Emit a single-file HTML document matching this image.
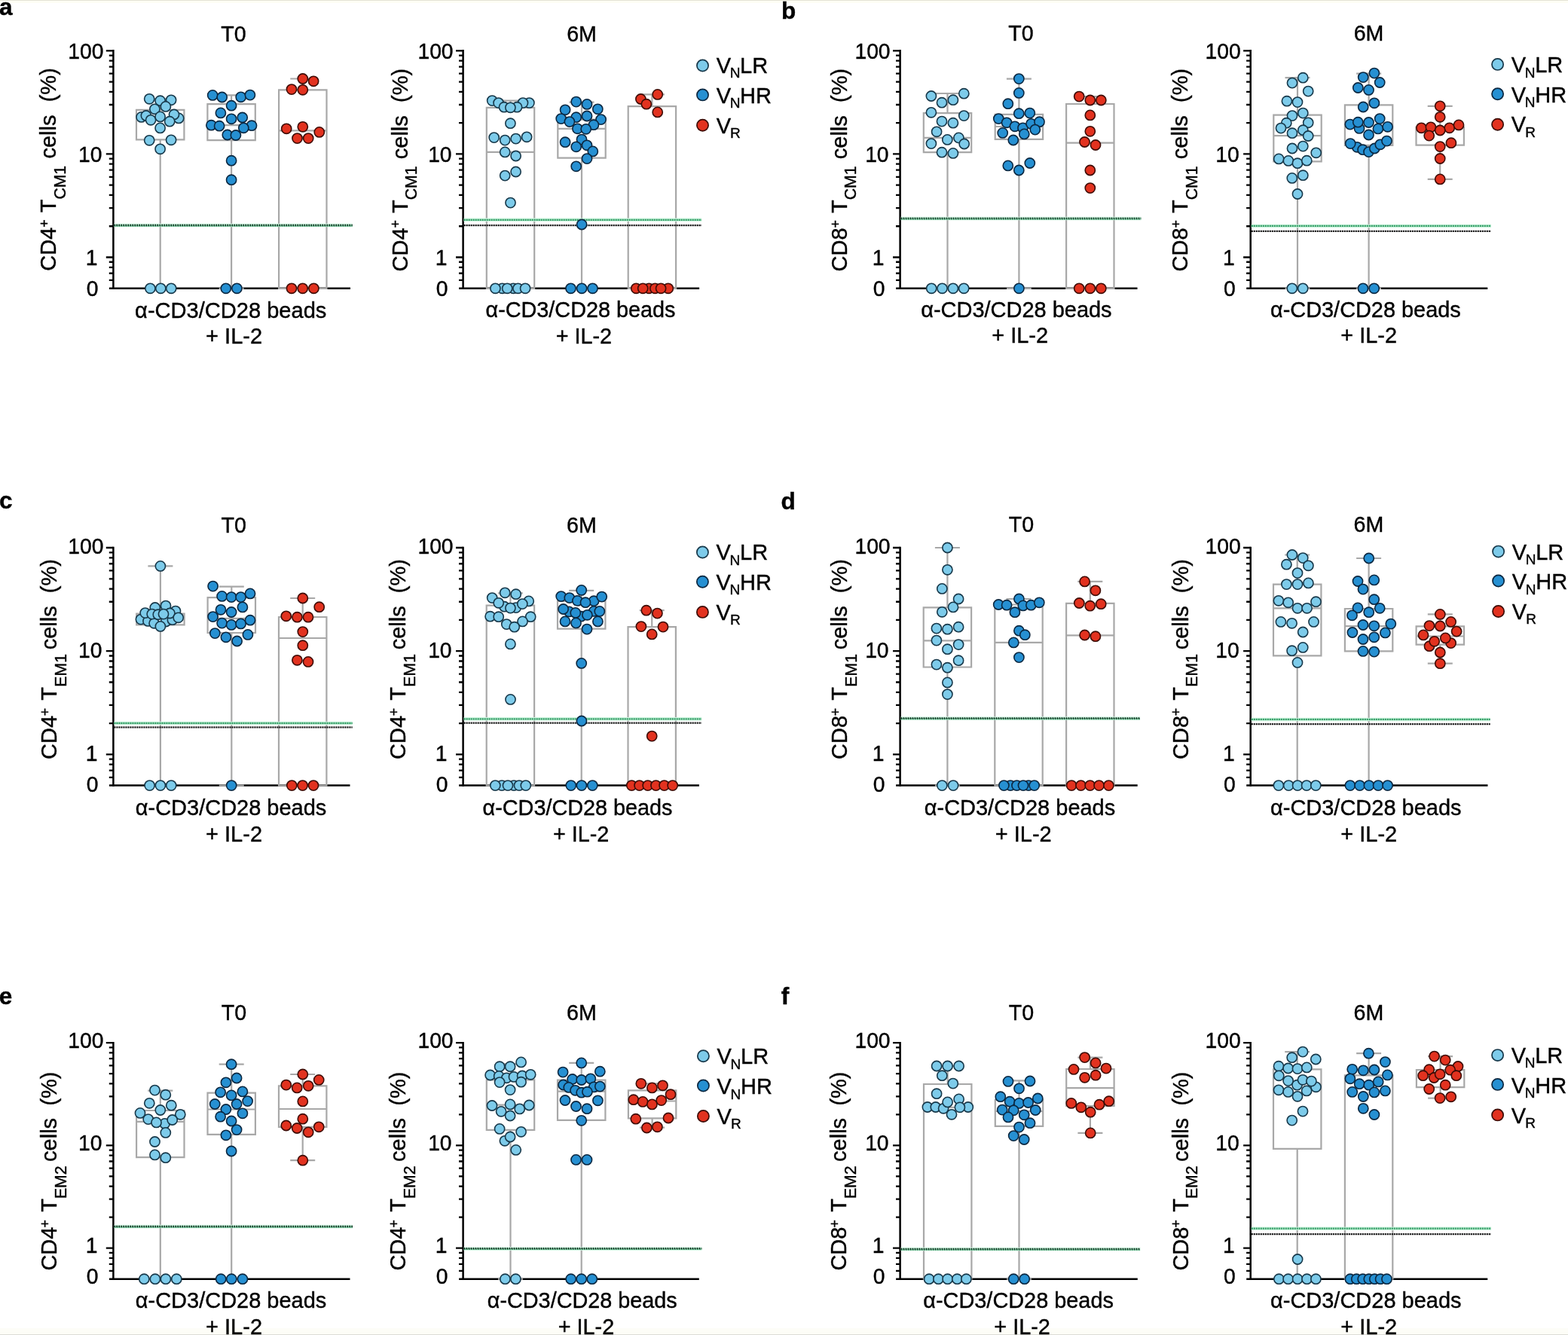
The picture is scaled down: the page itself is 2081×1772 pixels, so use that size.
<!DOCTYPE html>
<html><head><meta charset="utf-8"><title>Figure</title>
<style>html,body{margin:0;padding:0;background:#fff;}svg{display:block;}</style>
</head><body>
<svg xmlns="http://www.w3.org/2000/svg" width="2081" height="1772" viewBox="0 0 2081 1772" font-family="'Liberation Sans', Arial, Helvetica, sans-serif" fill="#000">
<style>text{stroke:#000;stroke-width:0.4px;}</style>
<rect width="2081" height="1772" fill="#fff"/>
<rect x="0" y="0" width="2081" height="1" fill="#e4e3d6"/>
<rect x="0" y="1" width="2081" height="3" fill="#fdfdf4"/>
<rect x="0" y="1763" width="2081" height="8" fill="#fdfdf7"/>
<rect x="0" y="1771" width="2081" height="1" fill="#dcdcd6"/>
<line x1="150.4" y1="66.1" x2="150.4" y2="384" stroke="#000" stroke-width="2.5"/>
<line x1="144.9" y1="382.8" x2="465" y2="382.8" stroke="#000" stroke-width="2.5"/>
<path d="M140.8 67.3H150.4 M140.8 204.4H150.4 M140.8 341.5H150.4 M144.8 163.13H150.4 M144.8 138.99H150.4 M144.8 121.86H150.4 M144.8 108.57H150.4 M144.8 97.72H150.4 M144.8 88.54H150.4 M144.8 80.59H150.4 M144.8 73.57H150.4 M144.8 300.23H150.4 M144.8 276.09H150.4 M144.8 258.96H150.4 M144.8 245.67H150.4 M144.8 234.82H150.4 M144.8 225.64H150.4 M144.8 217.69H150.4 M144.8 210.67H150.4 M144.8 371.92H150.4 M144.8 362.74H150.4 M144.8 354.79H150.4 M144.8 347.77H150.4" stroke="#000" stroke-width="2.3" fill="none"/>
<path d="M212.7 131.3V145.8 M196.2 131.3H229.2 M212.7 185.3V382.8 M196.2 382.8H229.2 M181 145.8H244.4V185.3H181Z M307.1 126.4V138.2 M290.6 126.4H323.6 M307.1 186.1V382.8 M290.6 382.8H323.6 M275.4 138.2H338.8V186.1H275.4Z M275.4 166.2H338.8 M401.8 104.5V119.3 M385.3 104.5H418.3 M370.1 119.3H433.5V382.8H370.1Z M370.1 173.4H433.5" stroke="#a8a8a8" stroke-width="2.2" fill="none"/>
<line x1="151.4" y1="299.1" x2="467.7" y2="299.1" stroke="#c9f3dc" stroke-width="4.5"/>
<line x1="151.4" y1="299.7" x2="467.7" y2="299.7" stroke="#2e8558" stroke-width="2.2" stroke-dasharray="2.1 0.9"/>
<line x1="151.4" y1="298.6" x2="467.7" y2="298.6" stroke="#0b2015" stroke-width="1.6" stroke-dasharray="1.6 1.4"/>
<g fill="#7dcbea" stroke="#17384a" stroke-width="1.6"><circle cx="212.6" cy="133.7" r="6.6"/><circle cx="198.2" cy="131.3" r="6.6"/><circle cx="227.1" cy="132.8" r="6.6"/><circle cx="205.4" cy="144.8" r="6.6"/><circle cx="219.9" cy="141.4" r="6.6"/><circle cx="187.6" cy="155.4" r="6.6"/><circle cx="193.9" cy="153.5" r="6.6"/><circle cx="200.1" cy="159.3" r="6.6"/><circle cx="212.6" cy="154.9" r="6.6"/><circle cx="237.2" cy="156.9" r="6.6"/><circle cx="231" cy="152" r="6.6"/><circle cx="225.2" cy="161.2" r="6.6"/><circle cx="212.6" cy="169.9" r="6.6"/><circle cx="198.2" cy="186.3" r="6.6"/><circle cx="227.1" cy="185.8" r="6.6"/><circle cx="212.6" cy="197.8" r="6.6"/><circle cx="199.4" cy="382.8" r="6.6"/><circle cx="213.3" cy="382.8" r="6.6"/><circle cx="227.2" cy="382.8" r="6.6"/></g>
<g fill="#2690d2" stroke="#0b2740" stroke-width="1.6"><circle cx="282.2" cy="126.4" r="6.6"/><circle cx="294.7" cy="129" r="6.6"/><circle cx="319.7" cy="128.8" r="6.6"/><circle cx="331.9" cy="126.1" r="6.6"/><circle cx="307.1" cy="140.2" r="6.6"/><circle cx="292.9" cy="149.9" r="6.6"/><circle cx="307.1" cy="157.8" r="6.6"/><circle cx="321.7" cy="156" r="6.6"/><circle cx="280.4" cy="166.2" r="6.6"/><circle cx="291.1" cy="167.2" r="6.6"/><circle cx="334" cy="166.7" r="6.6"/><circle cx="323.3" cy="169.8" r="6.6"/><circle cx="301.8" cy="179" r="6.6"/><circle cx="312.9" cy="179.5" r="6.6"/><circle cx="307.1" cy="213.2" r="6.6"/><circle cx="307.1" cy="238.7" r="6.6"/><circle cx="299.8" cy="382.8" r="6.6"/><circle cx="314.4" cy="382.8" r="6.6"/></g>
<g fill="#e2321f" stroke="#3d0c06" stroke-width="1.6"><circle cx="401.8" cy="104.5" r="6.6"/><circle cx="416.1" cy="107.8" r="6.6"/><circle cx="387" cy="118.6" r="6.6"/><circle cx="401.8" cy="119.3" r="6.6"/><circle cx="380.2" cy="170.8" r="6.6"/><circle cx="401.8" cy="168.3" r="6.6"/><circle cx="423.8" cy="175.4" r="6.6"/><circle cx="394.5" cy="183.6" r="6.6"/><circle cx="409.2" cy="183.6" r="6.6"/><circle cx="387" cy="382.8" r="6.6"/><circle cx="401.7" cy="382.8" r="6.6"/><circle cx="416.4" cy="382.8" r="6.6"/></g>
<line x1="614.6" y1="66.1" x2="614.6" y2="384" stroke="#000" stroke-width="2.5"/>
<line x1="609.1" y1="382.8" x2="928.1" y2="382.8" stroke="#000" stroke-width="2.5"/>
<path d="M605 67.3H614.6 M605 204.4H614.6 M605 341.5H614.6 M609 163.13H614.6 M609 138.99H614.6 M609 121.86H614.6 M609 108.57H614.6 M609 97.72H614.6 M609 88.54H614.6 M609 80.59H614.6 M609 73.57H614.6 M609 300.23H614.6 M609 276.09H614.6 M609 258.96H614.6 M609 245.67H614.6 M609 234.82H614.6 M609 225.64H614.6 M609 217.69H614.6 M609 210.67H614.6 M609 371.92H614.6 M609 362.74H614.6 M609 354.79H614.6 M609 347.77H614.6" stroke="#000" stroke-width="2.3" fill="none"/>
<path d="M677.5 133.6V142.8 M661 133.6H694 M645.8 142.8H709.2V382.8H645.8Z M645.8 201.9H709.2 M772 135.6V158.6 M755.5 135.6H788.5 M772 209.6V382.8 M755.5 382.8H788.5 M740.3 158.6H803.7V209.6H740.3Z M740.3 170.8H803.7 M865.4 125.4V141.2 M848.9 125.4H881.9 M833.7 141.2H897.1V382.8H833.7Z" stroke="#a8a8a8" stroke-width="2.2" fill="none"/>
<line x1="615.6" y1="291.8" x2="931.1" y2="291.8" stroke="#c9f3dc" stroke-width="4.5"/>
<line x1="615.6" y1="299.1" x2="931.1" y2="299.1" stroke="#111" stroke-width="2.2" stroke-dasharray="2.1 0.9"/>
<line x1="615.6" y1="291.8" x2="931.1" y2="291.8" stroke="#2f9a62" stroke-width="2.2" stroke-dasharray="2.1 0.9"/>
<g fill="#7dcbea" stroke="#17384a" stroke-width="1.6"><circle cx="653.2" cy="133.6" r="6.6"/><circle cx="702.4" cy="136.6" r="6.6"/><circle cx="694" cy="136.6" r="6.6"/><circle cx="661.6" cy="136.6" r="6.6"/><circle cx="669" cy="142.2" r="6.6"/><circle cx="686.1" cy="142.2" r="6.6"/><circle cx="677.4" cy="142.8" r="6.6"/><circle cx="677.4" cy="163.7" r="6.6"/><circle cx="655.7" cy="182.6" r="6.6"/><circle cx="670.2" cy="186.1" r="6.6"/><circle cx="684.6" cy="184.1" r="6.6"/><circle cx="699.1" cy="181.8" r="6.6"/><circle cx="670.2" cy="201.9" r="6.6"/><circle cx="684.6" cy="207" r="6.6"/><circle cx="684.6" cy="228" r="6.6"/><circle cx="670.2" cy="233.1" r="6.6"/><circle cx="677.5" cy="269.1" r="6.6"/><circle cx="666.6" cy="382.8" r="6.6"/><circle cx="681.3" cy="382.8" r="6.6"/><circle cx="687.5" cy="382.8" r="6.6"/><circle cx="657.4" cy="382.8" r="6.6"/><circle cx="673.2" cy="382.8" r="6.6"/><circle cx="697.1" cy="382.8" r="6.6"/></g>
<g fill="#2690d2" stroke="#0b2740" stroke-width="1.6"><circle cx="764.7" cy="135.1" r="6.6"/><circle cx="779" cy="138.4" r="6.6"/><circle cx="750.1" cy="145.8" r="6.6"/><circle cx="793.3" cy="144.8" r="6.6"/><circle cx="744.7" cy="157.6" r="6.6"/><circle cx="764.7" cy="155.7" r="6.6"/><circle cx="779" cy="154" r="6.6"/><circle cx="797.6" cy="158.6" r="6.6"/><circle cx="755.9" cy="161.6" r="6.6"/><circle cx="787.9" cy="165.7" r="6.6"/><circle cx="766.4" cy="170.8" r="6.6"/><circle cx="777.7" cy="171.3" r="6.6"/><circle cx="750.1" cy="188.7" r="6.6"/><circle cx="772" cy="185.1" r="6.6"/><circle cx="764.7" cy="194.8" r="6.6"/><circle cx="779" cy="192.8" r="6.6"/><circle cx="786.8" cy="200.9" r="6.6"/><circle cx="779" cy="210.6" r="6.6"/><circle cx="764.7" cy="220.8" r="6.6"/><circle cx="772.1" cy="298" r="6.6"/><circle cx="757.5" cy="382.8" r="6.6"/><circle cx="772.1" cy="382.8" r="6.6"/><circle cx="786.5" cy="382.8" r="6.6"/></g>
<g fill="#e2321f" stroke="#3d0c06" stroke-width="1.6"><circle cx="872.7" cy="125.4" r="6.6"/><circle cx="850.4" cy="131.5" r="6.6"/><circle cx="857.9" cy="138.2" r="6.6"/><circle cx="872.7" cy="148.9" r="6.6"/><circle cx="844.3" cy="382.8" r="6.6"/><circle cx="861.3" cy="382.8" r="6.6"/><circle cx="869.4" cy="382.8" r="6.6"/><circle cx="886.8" cy="382.8" r="6.6"/><circle cx="853.2" cy="382.8" r="6.6"/><circle cx="877.1" cy="382.8" r="6.6"/></g>
<line x1="1194.6" y1="66.1" x2="1194.6" y2="384" stroke="#000" stroke-width="2.5"/>
<line x1="1189.1" y1="382.8" x2="1509.5" y2="382.8" stroke="#000" stroke-width="2.5"/>
<path d="M1185 67.3H1194.6 M1185 204.4H1194.6 M1185 341.5H1194.6 M1189 163.13H1194.6 M1189 138.99H1194.6 M1189 121.86H1194.6 M1189 108.57H1194.6 M1189 97.72H1194.6 M1189 88.54H1194.6 M1189 80.59H1194.6 M1189 73.57H1194.6 M1189 300.23H1194.6 M1189 276.09H1194.6 M1189 258.96H1194.6 M1189 245.67H1194.6 M1189 234.82H1194.6 M1189 225.64H1194.6 M1189 217.69H1194.6 M1189 210.67H1194.6 M1189 371.92H1194.6 M1189 362.74H1194.6 M1189 354.79H1194.6 M1189 347.77H1194.6" stroke="#000" stroke-width="2.3" fill="none"/>
<path d="M1257.5 124V150.1 M1241 124H1274 M1257.5 202.2V382.8 M1241 382.8H1274 M1225.8 150.1H1289.2V202.2H1225.8Z M1225.8 182.9H1289.2 M1352.4 104.6V151.8 M1335.9 104.6H1368.9 M1352.4 184.8V382.8 M1335.9 382.8H1368.9 M1320.7 151.8H1384.1V184.8H1320.7Z M1320.7 168H1384.1 M1446.8 128.1V138 M1430.3 128.1H1463.3 M1415.1 138H1478.5V382.8H1415.1Z M1415.1 189.7H1478.5" stroke="#a8a8a8" stroke-width="2.2" fill="none"/>
<line x1="1195.6" y1="290" x2="1514.3" y2="290" stroke="#c9f3dc" stroke-width="4.5"/>
<line x1="1195.6" y1="290.6" x2="1514.3" y2="290.6" stroke="#2e8558" stroke-width="2.2" stroke-dasharray="2.1 0.9"/>
<line x1="1195.6" y1="289.5" x2="1514.3" y2="289.5" stroke="#0b2015" stroke-width="1.6" stroke-dasharray="1.6 1.4"/>
<g fill="#7dcbea" stroke="#17384a" stroke-width="1.6"><circle cx="1235.9" cy="127.5" r="6.6"/><circle cx="1250" cy="136.2" r="6.6"/><circle cx="1264.9" cy="132.7" r="6.6"/><circle cx="1279.3" cy="124.2" r="6.6"/><circle cx="1235.9" cy="149.3" r="6.6"/><circle cx="1279.3" cy="153.6" r="6.6"/><circle cx="1250" cy="161.1" r="6.6"/><circle cx="1264.9" cy="163.2" r="6.6"/><circle cx="1243.1" cy="174.8" r="6.6"/><circle cx="1257.3" cy="185.4" r="6.6"/><circle cx="1272.4" cy="182.9" r="6.6"/><circle cx="1235.9" cy="190.6" r="6.6"/><circle cx="1279.7" cy="191" r="6.6"/><circle cx="1250" cy="202.2" r="6.6"/><circle cx="1264.9" cy="203.4" r="6.6"/><circle cx="1236.2" cy="382.8" r="6.6"/><circle cx="1250.5" cy="382.8" r="6.6"/><circle cx="1264.9" cy="382.8" r="6.6"/><circle cx="1279.2" cy="382.8" r="6.6"/></g>
<g fill="#2690d2" stroke="#0b2740" stroke-width="1.6"><circle cx="1352.3" cy="104.6" r="6.6"/><circle cx="1352.3" cy="123.4" r="6.6"/><circle cx="1337.8" cy="137.7" r="6.6"/><circle cx="1352.3" cy="150.7" r="6.6"/><circle cx="1366.8" cy="150.1" r="6.6"/><circle cx="1325.3" cy="157.6" r="6.6"/><circle cx="1336.1" cy="162.8" r="6.6"/><circle cx="1346.9" cy="167.8" r="6.6"/><circle cx="1357.5" cy="169.8" r="6.6"/><circle cx="1368.5" cy="164.3" r="6.6"/><circle cx="1379.5" cy="161.7" r="6.6"/><circle cx="1373.8" cy="172.1" r="6.6"/><circle cx="1330.7" cy="176.4" r="6.6"/><circle cx="1359.3" cy="177.9" r="6.6"/><circle cx="1344.8" cy="186" r="6.6"/><circle cx="1337.8" cy="219.9" r="6.6"/><circle cx="1352.3" cy="226" r="6.6"/><circle cx="1366.8" cy="216.5" r="6.6"/><circle cx="1352.4" cy="382.8" r="6.6"/></g>
<g fill="#e2321f" stroke="#3d0c06" stroke-width="1.6"><circle cx="1432.2" cy="128.1" r="6.6"/><circle cx="1446.8" cy="133" r="6.6"/><circle cx="1461.3" cy="133" r="6.6"/><circle cx="1446.8" cy="152.9" r="6.6"/><circle cx="1446.8" cy="174.3" r="6.6"/><circle cx="1439.5" cy="188.5" r="6.6"/><circle cx="1454" cy="192.5" r="6.6"/><circle cx="1446.8" cy="226" r="6.6"/><circle cx="1446.8" cy="249.6" r="6.6"/><circle cx="1432.2" cy="382.8" r="6.6"/><circle cx="1446.8" cy="382.8" r="6.6"/><circle cx="1461.3" cy="382.8" r="6.6"/></g>
<line x1="1659.7" y1="66.1" x2="1659.7" y2="384" stroke="#000" stroke-width="2.5"/>
<line x1="1654.2" y1="382.8" x2="1974.3" y2="382.8" stroke="#000" stroke-width="2.5"/>
<path d="M1650.1 67.3H1659.7 M1650.1 204.4H1659.7 M1650.1 341.5H1659.7 M1654.1 163.13H1659.7 M1654.1 138.99H1659.7 M1654.1 121.86H1659.7 M1654.1 108.57H1659.7 M1654.1 97.72H1659.7 M1654.1 88.54H1659.7 M1654.1 80.59H1659.7 M1654.1 73.57H1659.7 M1654.1 300.23H1659.7 M1654.1 276.09H1659.7 M1654.1 258.96H1659.7 M1654.1 245.67H1659.7 M1654.1 234.82H1659.7 M1654.1 225.64H1659.7 M1654.1 217.69H1659.7 M1654.1 210.67H1659.7 M1654.1 371.92H1659.7 M1654.1 362.74H1659.7 M1654.1 354.79H1659.7 M1654.1 347.77H1659.7" stroke="#000" stroke-width="2.3" fill="none"/>
<path d="M1722 103.2V152.7 M1705.5 103.2H1738.5 M1722 214.4V382.8 M1705.5 382.8H1738.5 M1690.3 152.7H1753.7V214.4H1690.3Z M1690.3 180.2H1753.7 M1816.6 97.6V139.3 M1800.1 97.6H1833.1 M1816.6 192.9V382.8 M1800.1 382.8H1833.1 M1784.9 139.3H1848.3V192.9H1784.9Z M1911.2 140.8V168.8 M1894.7 140.8H1927.7 M1911.2 192.6V237.9 M1894.7 237.9H1927.7 M1879.5 168.8H1942.9V192.6H1879.5Z" stroke="#a8a8a8" stroke-width="2.2" fill="none"/>
<line x1="1660.7" y1="299.9" x2="1978.9" y2="299.9" stroke="#c9f3dc" stroke-width="4.5"/>
<line x1="1660.7" y1="306.9" x2="1978.9" y2="306.9" stroke="#111" stroke-width="2.2" stroke-dasharray="2.1 0.9"/>
<line x1="1660.7" y1="299.9" x2="1978.9" y2="299.9" stroke="#2f9a62" stroke-width="2.2" stroke-dasharray="2.1 0.9"/>
<g fill="#7dcbea" stroke="#17384a" stroke-width="1.6"><circle cx="1729.3" cy="103.2" r="6.6"/><circle cx="1715" cy="110.1" r="6.6"/><circle cx="1736.2" cy="121.1" r="6.6"/><circle cx="1707.9" cy="134.2" r="6.6"/><circle cx="1722" cy="135.6" r="6.6"/><circle cx="1729.3" cy="150.1" r="6.6"/><circle cx="1715" cy="153.6" r="6.6"/><circle cx="1707.3" cy="163.2" r="6.6"/><circle cx="1736.2" cy="162.8" r="6.6"/><circle cx="1700" cy="170.1" r="6.6"/><circle cx="1729.3" cy="172.7" r="6.6"/><circle cx="1715" cy="176.7" r="6.6"/><circle cx="1736.2" cy="180.5" r="6.6"/><circle cx="1715" cy="197" r="6.6"/><circle cx="1729.3" cy="194.1" r="6.6"/><circle cx="1746.7" cy="202.8" r="6.6"/><circle cx="1697.2" cy="210.9" r="6.6"/><circle cx="1709.9" cy="213.4" r="6.6"/><circle cx="1722" cy="216.7" r="6.6"/><circle cx="1734.3" cy="213.2" r="6.6"/><circle cx="1714.8" cy="236.4" r="6.6"/><circle cx="1729.3" cy="232.7" r="6.6"/><circle cx="1722" cy="257.5" r="6.6"/><circle cx="1714.8" cy="382.8" r="6.6"/><circle cx="1729.2" cy="382.8" r="6.6"/></g>
<g fill="#2690d2" stroke="#0b2740" stroke-width="1.6"><circle cx="1823.9" cy="97.1" r="6.6"/><circle cx="1809.2" cy="102.6" r="6.6"/><circle cx="1831.2" cy="109.5" r="6.6"/><circle cx="1802.3" cy="116.5" r="6.6"/><circle cx="1816.5" cy="119.4" r="6.6"/><circle cx="1823.9" cy="136.8" r="6.6"/><circle cx="1809.2" cy="142" r="6.6"/><circle cx="1831.2" cy="157.6" r="6.6"/><circle cx="1791.8" cy="165.1" r="6.6"/><circle cx="1804" cy="170.4" r="6.6"/><circle cx="1802.3" cy="162.2" r="6.6"/><circle cx="1816.5" cy="162.5" r="6.6"/><circle cx="1828.9" cy="170.9" r="6.6"/><circle cx="1841.6" cy="168.3" r="6.6"/><circle cx="1816.5" cy="179" r="6.6"/><circle cx="1801.1" cy="195.3" r="6.6"/><circle cx="1792.2" cy="190.6" r="6.6"/><circle cx="1808.6" cy="198.7" r="6.6"/><circle cx="1816.5" cy="201.6" r="6.6"/><circle cx="1824.3" cy="197" r="6.6"/><circle cx="1831.8" cy="191.8" r="6.6"/><circle cx="1840.5" cy="187.1" r="6.6"/><circle cx="1809" cy="382.8" r="6.6"/><circle cx="1823.7" cy="382.8" r="6.6"/></g>
<g fill="#e2321f" stroke="#3d0c06" stroke-width="1.6"><circle cx="1911.2" cy="140.8" r="6.6"/><circle cx="1911.2" cy="155.3" r="6.6"/><circle cx="1886.4" cy="169.8" r="6.6"/><circle cx="1898.9" cy="168.8" r="6.6"/><circle cx="1923.7" cy="169.8" r="6.6"/><circle cx="1936" cy="165.9" r="6.6"/><circle cx="1911.2" cy="173" r="6.6"/><circle cx="1896.7" cy="180.1" r="6.6"/><circle cx="1925.9" cy="189.7" r="6.6"/><circle cx="1911.2" cy="194.6" r="6.6"/><circle cx="1911.2" cy="210.5" r="6.6"/><circle cx="1911.2" cy="237.9" r="6.6"/></g>
<line x1="150.4" y1="725.8" x2="150.4" y2="1043.8" stroke="#000" stroke-width="2.5"/>
<line x1="144.9" y1="1042.6" x2="464.5" y2="1042.6" stroke="#000" stroke-width="2.5"/>
<path d="M140.8 727H150.4 M140.8 864.2H150.4 M140.8 1001.4H150.4 M144.8 822.9H150.4 M144.8 798.74H150.4 M144.8 781.6H150.4 M144.8 768.3H150.4 M144.8 757.44H150.4 M144.8 748.25H150.4 M144.8 740.3H150.4 M144.8 733.28H150.4 M144.8 960.1H150.4 M144.8 935.94H150.4 M144.8 918.8H150.4 M144.8 905.5H150.4 M144.8 894.64H150.4 M144.8 885.45H150.4 M144.8 877.5H150.4 M144.8 870.48H150.4 M144.8 1031.84H150.4 M144.8 1022.65H150.4 M144.8 1014.7H150.4 M144.8 1007.68H150.4" stroke="#000" stroke-width="2.3" fill="none"/>
<path d="M212.9 751.4V814.7 M196.4 751.4H229.4 M212.9 829.4V1042.6 M196.4 1042.6H229.4 M181.2 814.7H244.6V829.4H181.2Z M181.2 820.2H244.6 M307.3 778.7V793.1 M290.8 778.7H323.8 M307.3 840V1042.6 M290.8 1042.6H323.8 M275.6 793.1H339V840H275.6Z M275.6 820.9H339 M401.7 794V819 M385.2 794H418.2 M370 819H433.4V1042.6H370Z M370 847H433.4" stroke="#a8a8a8" stroke-width="2.2" fill="none"/>
<line x1="151.4" y1="959.9" x2="467.7" y2="959.9" stroke="#c9f3dc" stroke-width="4.5"/>
<line x1="151.4" y1="965.4" x2="467.7" y2="965.4" stroke="#111" stroke-width="2.2" stroke-dasharray="2.1 0.9"/>
<line x1="151.4" y1="959.9" x2="467.7" y2="959.9" stroke="#2f9a62" stroke-width="2.2" stroke-dasharray="2.1 0.9"/>
<g fill="#7dcbea" stroke="#17384a" stroke-width="1.6"><circle cx="212.9" cy="751.4" r="6.6"/><circle cx="205.8" cy="806.5" r="6.6"/><circle cx="220" cy="804.1" r="6.6"/><circle cx="233" cy="811.1" r="6.6"/><circle cx="186.9" cy="822.1" r="6.6"/><circle cx="196.5" cy="824.4" r="6.6"/><circle cx="204.6" cy="827.3" r="6.6"/><circle cx="220.2" cy="825" r="6.6"/><circle cx="228.9" cy="822.7" r="6.6"/><circle cx="192.7" cy="813.6" r="6.6"/><circle cx="201.7" cy="815.1" r="6.6"/><circle cx="209.8" cy="815.7" r="6.6"/><circle cx="225.4" cy="814" r="6.6"/><circle cx="217" cy="815.1" r="6.6"/><circle cx="236.7" cy="819.8" r="6.6"/><circle cx="212.9" cy="831.4" r="6.6"/><circle cx="198.6" cy="1042.6" r="6.6"/><circle cx="212.9" cy="1042.6" r="6.6"/><circle cx="227.2" cy="1042.6" r="6.6"/></g>
<g fill="#2690d2" stroke="#0b2740" stroke-width="1.6"><circle cx="282.6" cy="778.1" r="6.6"/><circle cx="294.6" cy="791.4" r="6.6"/><circle cx="307.1" cy="792.6" r="6.6"/><circle cx="319.6" cy="792.6" r="6.6"/><circle cx="332" cy="787.9" r="6.6"/><circle cx="293" cy="809.3" r="6.6"/><circle cx="307.1" cy="812.5" r="6.6"/><circle cx="321.9" cy="805.9" r="6.6"/><circle cx="282.6" cy="818.6" r="6.6"/><circle cx="294.6" cy="827.1" r="6.6"/><circle cx="307.1" cy="829.4" r="6.6"/><circle cx="319.6" cy="827.9" r="6.6"/><circle cx="332" cy="823.2" r="6.6"/><circle cx="285.3" cy="840.6" r="6.6"/><circle cx="299.9" cy="845.8" r="6.6"/><circle cx="314.6" cy="851" r="6.6"/><circle cx="328.9" cy="842.4" r="6.6"/><circle cx="307.2" cy="1042.6" r="6.6"/></g>
<g fill="#e2321f" stroke="#3d0c06" stroke-width="1.6"><circle cx="401.8" cy="794" r="6.6"/><circle cx="423.7" cy="805.7" r="6.6"/><circle cx="379.8" cy="817.8" r="6.6"/><circle cx="394.4" cy="819.2" r="6.6"/><circle cx="409" cy="819.2" r="6.6"/><circle cx="401.8" cy="838.6" r="6.6"/><circle cx="401.8" cy="856.7" r="6.6"/><circle cx="394.4" cy="876.3" r="6.6"/><circle cx="409" cy="878.4" r="6.6"/><circle cx="387.3" cy="1042.6" r="6.6"/><circle cx="401.6" cy="1042.6" r="6.6"/><circle cx="416" cy="1042.6" r="6.6"/></g>
<line x1="614.6" y1="725.8" x2="614.6" y2="1043.8" stroke="#000" stroke-width="2.5"/>
<line x1="609.1" y1="1042.6" x2="927.9" y2="1042.6" stroke="#000" stroke-width="2.5"/>
<path d="M605 727H614.6 M605 864.2H614.6 M605 1001.4H614.6 M609 822.9H614.6 M609 798.74H614.6 M609 781.6H614.6 M609 768.3H614.6 M609 757.44H614.6 M609 748.25H614.6 M609 740.3H614.6 M609 733.28H614.6 M609 960.1H614.6 M609 935.94H614.6 M609 918.8H614.6 M609 905.5H614.6 M609 894.64H614.6 M609 885.45H614.6 M609 877.5H614.6 M609 870.48H614.6 M609 1031.84H614.6 M609 1022.65H614.6 M609 1014.7H614.6 M609 1007.68H614.6" stroke="#000" stroke-width="2.3" fill="none"/>
<path d="M677.4 787.3V803.7 M660.9 787.3H693.9 M645.7 803.7H709.1V1042.6H645.7Z M771.7 783.9V797.9 M755.2 783.9H788.2 M771.7 834.6V1042.6 M755.2 1042.6H788.2 M740 797.9H803.4V834.6H740Z M865.2 810.2V832.1 M848.7 810.2H881.7 M833.5 832.1H896.9V1042.6H833.5Z" stroke="#a8a8a8" stroke-width="2.2" fill="none"/>
<line x1="615.6" y1="954.3" x2="931.1" y2="954.3" stroke="#c9f3dc" stroke-width="4.5"/>
<line x1="615.6" y1="959.7" x2="931.1" y2="959.7" stroke="#111" stroke-width="2.2" stroke-dasharray="2.1 0.9"/>
<line x1="615.6" y1="954.3" x2="931.1" y2="954.3" stroke="#2f9a62" stroke-width="2.2" stroke-dasharray="2.1 0.9"/>
<g fill="#7dcbea" stroke="#17384a" stroke-width="1.6"><circle cx="670.2" cy="786.8" r="6.6"/><circle cx="684.7" cy="788.7" r="6.6"/><circle cx="653.2" cy="793.6" r="6.6"/><circle cx="669.4" cy="805.2" r="6.6"/><circle cx="684.8" cy="806.6" r="6.6"/><circle cx="661.7" cy="800.3" r="6.6"/><circle cx="701.7" cy="797.9" r="6.6"/><circle cx="693.3" cy="801.6" r="6.6"/><circle cx="677.4" cy="807.1" r="6.6"/><circle cx="650.6" cy="818.2" r="6.6"/><circle cx="661.7" cy="818.7" r="6.6"/><circle cx="704.2" cy="818.7" r="6.6"/><circle cx="693.5" cy="824.9" r="6.6"/><circle cx="672.3" cy="828.6" r="6.6"/><circle cx="682.7" cy="832.2" r="6.6"/><circle cx="677.4" cy="854.9" r="6.6"/><circle cx="677.5" cy="928.4" r="6.6"/><circle cx="666" cy="1042.6" r="6.6"/><circle cx="682" cy="1042.6" r="6.6"/><circle cx="657.3" cy="1042.6" r="6.6"/><circle cx="674" cy="1042.6" r="6.6"/><circle cx="689" cy="1042.6" r="6.6"/><circle cx="697.8" cy="1042.6" r="6.6"/></g>
<g fill="#2690d2" stroke="#0b2740" stroke-width="1.6"><circle cx="771.7" cy="783.4" r="6.6"/><circle cx="744.7" cy="791.6" r="6.6"/><circle cx="755.8" cy="793.6" r="6.6"/><circle cx="766.4" cy="797.4" r="6.6"/><circle cx="788.1" cy="797.7" r="6.6"/><circle cx="777" cy="799.7" r="6.6"/><circle cx="798.7" cy="792.1" r="6.6"/><circle cx="755.3" cy="811.9" r="6.6"/><circle cx="747.6" cy="808.5" r="6.6"/><circle cx="771.2" cy="818.2" r="6.6"/><circle cx="763.8" cy="813.4" r="6.6"/><circle cx="788.1" cy="811.4" r="6.6"/><circle cx="779.4" cy="816.3" r="6.6"/><circle cx="795.8" cy="811.4" r="6.6"/><circle cx="750" cy="824.9" r="6.6"/><circle cx="764.5" cy="826.9" r="6.6"/><circle cx="793.4" cy="824.9" r="6.6"/><circle cx="779" cy="835.1" r="6.6"/><circle cx="771.7" cy="880.4" r="6.6"/><circle cx="771.9" cy="957" r="6.6"/><circle cx="757.8" cy="1042.6" r="6.6"/><circle cx="771.9" cy="1042.6" r="6.6"/><circle cx="786.3" cy="1042.6" r="6.6"/></g>
<g fill="#e2321f" stroke="#3d0c06" stroke-width="1.6"><circle cx="857.8" cy="810.2" r="6.6"/><circle cx="872.4" cy="814.1" r="6.6"/><circle cx="850.9" cy="831.6" r="6.6"/><circle cx="880" cy="832.1" r="6.6"/><circle cx="865.2" cy="841.9" r="6.6"/><circle cx="865.2" cy="977.1" r="6.6"/><circle cx="838.3" cy="1042.6" r="6.6"/><circle cx="848.6" cy="1042.6" r="6.6"/><circle cx="859.7" cy="1042.6" r="6.6"/><circle cx="870.5" cy="1042.6" r="6.6"/><circle cx="881.6" cy="1042.6" r="6.6"/><circle cx="892.7" cy="1042.6" r="6.6"/></g>
<line x1="1194.6" y1="725.8" x2="1194.6" y2="1043.8" stroke="#000" stroke-width="2.5"/>
<line x1="1189.1" y1="1042.6" x2="1509.7" y2="1042.6" stroke="#000" stroke-width="2.5"/>
<path d="M1185 727H1194.6 M1185 864.2H1194.6 M1185 1001.4H1194.6 M1189 822.9H1194.6 M1189 798.74H1194.6 M1189 781.6H1194.6 M1189 768.3H1194.6 M1189 757.44H1194.6 M1189 748.25H1194.6 M1189 740.3H1194.6 M1189 733.28H1194.6 M1189 960.1H1194.6 M1189 935.94H1194.6 M1189 918.8H1194.6 M1189 905.5H1194.6 M1189 894.64H1194.6 M1189 885.45H1194.6 M1189 877.5H1194.6 M1189 870.48H1194.6 M1189 1031.84H1194.6 M1189 1022.65H1194.6 M1189 1014.7H1194.6 M1189 1007.68H1194.6" stroke="#000" stroke-width="2.3" fill="none"/>
<path d="M1257.4 727V806.3 M1240.9 727H1273.9 M1257.4 885.5V1042.6 M1240.9 1042.6H1273.9 M1225.7 806.3H1289.1V885.5H1225.7Z M1225.7 850.4H1289.1 M1352 795V802.5 M1335.5 795H1368.5 M1320.3 802.5H1383.7V1042.6H1320.3Z M1320.3 852.9H1383.7 M1446.8 771.9V800.8 M1430.3 771.9H1463.3 M1415.1 800.8H1478.5V1042.6H1415.1Z M1415.1 843.3H1478.5" stroke="#a8a8a8" stroke-width="2.2" fill="none"/>
<line x1="1195.6" y1="953.6" x2="1513.1" y2="953.6" stroke="#c9f3dc" stroke-width="4.5"/>
<line x1="1195.6" y1="954.2" x2="1513.1" y2="954.2" stroke="#2e8558" stroke-width="2.2" stroke-dasharray="2.1 0.9"/>
<line x1="1195.6" y1="953.1" x2="1513.1" y2="953.1" stroke="#0b2015" stroke-width="1.6" stroke-dasharray="1.6 1.4"/>
<g fill="#7dcbea" stroke="#17384a" stroke-width="1.6"><circle cx="1257.4" cy="727" r="6.6"/><circle cx="1257.4" cy="756.3" r="6.6"/><circle cx="1250.3" cy="781.4" r="6.6"/><circle cx="1272.1" cy="795" r="6.6"/><circle cx="1265" cy="805.9" r="6.6"/><circle cx="1250.3" cy="812.3" r="6.6"/><circle cx="1242.9" cy="834.1" r="6.6"/><circle cx="1257.4" cy="835.2" r="6.6"/><circle cx="1272.1" cy="832.2" r="6.6"/><circle cx="1242.9" cy="850.1" r="6.6"/><circle cx="1272.1" cy="855.6" r="6.6"/><circle cx="1257.4" cy="861.7" r="6.6"/><circle cx="1272.1" cy="876.7" r="6.6"/><circle cx="1242.9" cy="882.1" r="6.6"/><circle cx="1257.4" cy="886.2" r="6.6"/><circle cx="1257.4" cy="905.9" r="6.6"/><circle cx="1257.4" cy="921.6" r="6.6"/><circle cx="1250.3" cy="1042.6" r="6.6"/><circle cx="1265.1" cy="1042.6" r="6.6"/></g>
<g fill="#2690d2" stroke="#0b2740" stroke-width="1.6"><circle cx="1352.4" cy="795" r="6.6"/><circle cx="1325.2" cy="802.5" r="6.6"/><circle cx="1336.1" cy="803.2" r="6.6"/><circle cx="1357.8" cy="803.9" r="6.6"/><circle cx="1368.4" cy="803.2" r="6.6"/><circle cx="1379.3" cy="799.8" r="6.6"/><circle cx="1346.9" cy="812.7" r="6.6"/><circle cx="1352.4" cy="837.2" r="6.6"/><circle cx="1360.3" cy="842.7" r="6.6"/><circle cx="1345.3" cy="852.9" r="6.6"/><circle cx="1352.4" cy="872.6" r="6.6"/><circle cx="1341" cy="1042.6" r="6.6"/><circle cx="1349.5" cy="1042.6" r="6.6"/><circle cx="1365" cy="1042.6" r="6.6"/><circle cx="1332.4" cy="1042.6" r="6.6"/><circle cx="1358" cy="1042.6" r="6.6"/><circle cx="1372.7" cy="1042.6" r="6.6"/></g>
<g fill="#e2321f" stroke="#3d0c06" stroke-width="1.6"><circle cx="1439.6" cy="771.9" r="6.6"/><circle cx="1453.9" cy="783.8" r="6.6"/><circle cx="1432.3" cy="800.5" r="6.6"/><circle cx="1461.2" cy="801.7" r="6.6"/><circle cx="1446.7" cy="804.2" r="6.6"/><circle cx="1439.6" cy="843" r="6.6"/><circle cx="1453.9" cy="844.7" r="6.6"/><circle cx="1422.1" cy="1042.6" r="6.6"/><circle cx="1434.5" cy="1042.6" r="6.6"/><circle cx="1446.7" cy="1042.6" r="6.6"/><circle cx="1458.6" cy="1042.6" r="6.6"/><circle cx="1471.4" cy="1042.6" r="6.6"/></g>
<line x1="1659.7" y1="725.8" x2="1659.7" y2="1043.8" stroke="#000" stroke-width="2.5"/>
<line x1="1654.2" y1="1042.6" x2="1974.5" y2="1042.6" stroke="#000" stroke-width="2.5"/>
<path d="M1650.1 727H1659.7 M1650.1 864.2H1659.7 M1650.1 1001.4H1659.7 M1654.1 822.9H1659.7 M1654.1 798.74H1659.7 M1654.1 781.6H1659.7 M1654.1 768.3H1659.7 M1654.1 757.44H1659.7 M1654.1 748.25H1659.7 M1654.1 740.3H1659.7 M1654.1 733.28H1659.7 M1654.1 960.1H1659.7 M1654.1 935.94H1659.7 M1654.1 918.8H1659.7 M1654.1 905.5H1659.7 M1654.1 894.64H1659.7 M1654.1 885.45H1659.7 M1654.1 877.5H1659.7 M1654.1 870.48H1659.7 M1654.1 1031.84H1659.7 M1654.1 1022.65H1659.7 M1654.1 1014.7H1659.7 M1654.1 1007.68H1659.7" stroke="#000" stroke-width="2.3" fill="none"/>
<path d="M1721.7 736.5V775.6 M1705.2 736.5H1738.2 M1721.7 870.3V1042.6 M1705.2 1042.6H1738.2 M1690 775.6H1753.4V870.3H1690Z M1690 807.3H1753.4 M1816.6 741V808 M1800.1 741H1833.1 M1816.6 864.4V1042.6 M1800.1 1042.6H1833.1 M1784.9 808H1848.3V864.4H1784.9Z M1784.9 831.1H1848.3 M1911.3 815.4V831.3 M1894.8 815.4H1927.8 M1911.3 855.6V880.7 M1894.8 880.7H1927.8 M1879.6 831.3H1943V855.6H1879.6Z M1879.6 844.5H1943" stroke="#a8a8a8" stroke-width="2.2" fill="none"/>
<line x1="1660.7" y1="954.9" x2="1977.7" y2="954.9" stroke="#c9f3dc" stroke-width="4.5"/>
<line x1="1660.7" y1="961.2" x2="1977.7" y2="961.2" stroke="#111" stroke-width="2.2" stroke-dasharray="2.1 0.9"/>
<line x1="1660.7" y1="954.9" x2="1977.7" y2="954.9" stroke="#2f9a62" stroke-width="2.2" stroke-dasharray="2.1 0.9"/>
<g fill="#7dcbea" stroke="#17384a" stroke-width="1.6"><circle cx="1714.9" cy="736.5" r="6.6"/><circle cx="1729.2" cy="740.6" r="6.6"/><circle cx="1707.4" cy="749.2" r="6.6"/><circle cx="1736.4" cy="750.8" r="6.6"/><circle cx="1722" cy="760.6" r="6.6"/><circle cx="1707.4" cy="775.6" r="6.6"/><circle cx="1722" cy="775.6" r="6.6"/><circle cx="1736.4" cy="773.9" r="6.6"/><circle cx="1696.9" cy="797.3" r="6.6"/><circle cx="1709.7" cy="799.8" r="6.6"/><circle cx="1722" cy="807.3" r="6.6"/><circle cx="1734.6" cy="807.3" r="6.6"/><circle cx="1746.5" cy="798.7" r="6.6"/><circle cx="1699.9" cy="825.4" r="6.6"/><circle cx="1714.6" cy="827.3" r="6.6"/><circle cx="1743.5" cy="825.4" r="6.6"/><circle cx="1729.2" cy="839" r="6.6"/><circle cx="1729.2" cy="859.4" r="6.6"/><circle cx="1714.6" cy="863.7" r="6.6"/><circle cx="1722" cy="879.4" r="6.6"/><circle cx="1696.9" cy="1042.6" r="6.6"/><circle cx="1710.2" cy="1042.6" r="6.6"/><circle cx="1722.1" cy="1042.6" r="6.6"/><circle cx="1734.1" cy="1042.6" r="6.6"/><circle cx="1746.3" cy="1042.6" r="6.6"/></g>
<g fill="#2690d2" stroke="#0b2740" stroke-width="1.6"><circle cx="1816.7" cy="741" r="6.6"/><circle cx="1802" cy="771.5" r="6.6"/><circle cx="1823.7" cy="769.9" r="6.6"/><circle cx="1809" cy="782.1" r="6.6"/><circle cx="1823.7" cy="795.7" r="6.6"/><circle cx="1802" cy="806.9" r="6.6"/><circle cx="1831.2" cy="807.3" r="6.6"/><circle cx="1794.5" cy="816.8" r="6.6"/><circle cx="1816.7" cy="812.7" r="6.6"/><circle cx="1809" cy="829.5" r="6.6"/><circle cx="1823.7" cy="830.8" r="6.6"/><circle cx="1845.8" cy="828.1" r="6.6"/><circle cx="1794.9" cy="839.5" r="6.6"/><circle cx="1838.4" cy="839.9" r="6.6"/><circle cx="1809" cy="848.5" r="6.6"/><circle cx="1823.7" cy="845.8" r="6.6"/><circle cx="1809" cy="864.4" r="6.6"/><circle cx="1823.7" cy="865.1" r="6.6"/><circle cx="1791.9" cy="1042.6" r="6.6"/><circle cx="1804.6" cy="1042.6" r="6.6"/><circle cx="1816.9" cy="1042.6" r="6.6"/><circle cx="1829.1" cy="1042.6" r="6.6"/><circle cx="1841.6" cy="1042.6" r="6.6"/></g>
<g fill="#e2321f" stroke="#3d0c06" stroke-width="1.6"><circle cx="1911.3" cy="815.4" r="6.6"/><circle cx="1925.6" cy="825.4" r="6.6"/><circle cx="1897" cy="830.6" r="6.6"/><circle cx="1911.3" cy="831" r="6.6"/><circle cx="1933.1" cy="838.1" r="6.6"/><circle cx="1889" cy="842.9" r="6.6"/><circle cx="1925.6" cy="853.6" r="6.6"/><circle cx="1897" cy="857.7" r="6.6"/><circle cx="1903.7" cy="851.3" r="6.6"/><circle cx="1918.3" cy="846.9" r="6.6"/><circle cx="1911.3" cy="866" r="6.6"/><circle cx="1911.3" cy="880.7" r="6.6"/></g>
<line x1="150.4" y1="1382.9" x2="150.4" y2="1698.9" stroke="#000" stroke-width="2.5"/>
<line x1="144.9" y1="1697.7" x2="464.5" y2="1697.7" stroke="#000" stroke-width="2.5"/>
<path d="M140.8 1384.1H150.4 M140.8 1520.4H150.4 M140.8 1656.7H150.4 M144.8 1479.37H150.4 M144.8 1455.37H150.4 M144.8 1438.34H150.4 M144.8 1425.13H150.4 M144.8 1414.34H150.4 M144.8 1405.21H150.4 M144.8 1397.31H150.4 M144.8 1390.34H150.4 M144.8 1615.67H150.4 M144.8 1591.67H150.4 M144.8 1574.64H150.4 M144.8 1561.43H150.4 M144.8 1550.64H150.4 M144.8 1541.51H150.4 M144.8 1533.61H150.4 M144.8 1526.64H150.4 M144.8 1686.94H150.4 M144.8 1677.81H150.4 M144.8 1669.91H150.4 M144.8 1662.94H150.4" stroke="#000" stroke-width="2.3" fill="none"/>
<path d="M212.8 1447.7V1474 M196.3 1447.7H229.3 M212.8 1536.2V1697.7 M196.3 1697.7H229.3 M181.1 1474H244.5V1536.2H181.1Z M181.1 1488.9H244.5 M307.2 1412.7V1450.6 M290.7 1412.7H323.7 M307.2 1505.8V1697.7 M290.7 1697.7H323.7 M275.5 1450.6H338.9V1505.8H275.5Z M275.5 1472.5H338.9 M401.7 1426V1441.3 M385.2 1426H418.2 M401.7 1495.8V1540.2 M385.2 1540.2H418.2 M370 1441.3H433.4V1495.8H370Z M370 1472H433.4" stroke="#a8a8a8" stroke-width="2.2" fill="none"/>
<line x1="151.4" y1="1628.1" x2="468" y2="1628.1" stroke="#c9f3dc" stroke-width="4.5"/>
<line x1="151.4" y1="1628.7" x2="468" y2="1628.7" stroke="#2e8558" stroke-width="2.2" stroke-dasharray="2.1 0.9"/>
<line x1="151.4" y1="1627.6" x2="468" y2="1627.6" stroke="#0b2015" stroke-width="1.6" stroke-dasharray="1.6 1.4"/>
<g fill="#7dcbea" stroke="#17384a" stroke-width="1.6"><circle cx="205.5" cy="1447.1" r="6.6"/><circle cx="219.8" cy="1453.2" r="6.6"/><circle cx="198.3" cy="1464.3" r="6.6"/><circle cx="227.3" cy="1467.2" r="6.6"/><circle cx="212.8" cy="1473.5" r="6.6"/><circle cx="186" cy="1477.4" r="6.6"/><circle cx="239.3" cy="1479.3" r="6.6"/><circle cx="196.7" cy="1485.6" r="6.6"/><circle cx="218.6" cy="1491.4" r="6.6"/><circle cx="207.5" cy="1489.9" r="6.6"/><circle cx="228.7" cy="1486.5" r="6.6"/><circle cx="219.8" cy="1503.4" r="6.6"/><circle cx="205.5" cy="1515.5" r="6.6"/><circle cx="205.5" cy="1532.9" r="6.6"/><circle cx="219.8" cy="1536.7" r="6.6"/><circle cx="191.3" cy="1697.7" r="6.6"/><circle cx="205.9" cy="1697.7" r="6.6"/><circle cx="219.9" cy="1697.7" r="6.6"/><circle cx="234.3" cy="1697.7" r="6.6"/></g>
<g fill="#2690d2" stroke="#0b2740" stroke-width="1.6"><circle cx="307.1" cy="1412.7" r="6.6"/><circle cx="314.1" cy="1431" r="6.6"/><circle cx="299.9" cy="1436.8" r="6.6"/><circle cx="292.6" cy="1449.8" r="6.6"/><circle cx="321.9" cy="1448.9" r="6.6"/><circle cx="307.1" cy="1453.9" r="6.6"/><circle cx="328.6" cy="1461.6" r="6.6"/><circle cx="285.2" cy="1465.5" r="6.6"/><circle cx="314.1" cy="1465.5" r="6.6"/><circle cx="299.9" cy="1472.5" r="6.6"/><circle cx="321.9" cy="1477.8" r="6.6"/><circle cx="292.6" cy="1482.2" r="6.6"/><circle cx="307.1" cy="1488" r="6.6"/><circle cx="314.1" cy="1499.6" r="6.6"/><circle cx="299.9" cy="1506.8" r="6.6"/><circle cx="307.1" cy="1528" r="6.6"/><circle cx="293.2" cy="1697.7" r="6.6"/><circle cx="307.3" cy="1697.7" r="6.6"/><circle cx="321.9" cy="1697.7" r="6.6"/></g>
<g fill="#e2321f" stroke="#3d0c06" stroke-width="1.6"><circle cx="401.8" cy="1426" r="6.6"/><circle cx="423.2" cy="1433.4" r="6.6"/><circle cx="379.8" cy="1440.1" r="6.6"/><circle cx="394.2" cy="1443.9" r="6.6"/><circle cx="409.2" cy="1441.3" r="6.6"/><circle cx="401.8" cy="1461.9" r="6.6"/><circle cx="401.8" cy="1485.2" r="6.6"/><circle cx="379.8" cy="1494" r="6.6"/><circle cx="394.2" cy="1497.5" r="6.6"/><circle cx="423.2" cy="1495.8" r="6.6"/><circle cx="409.2" cy="1502.8" r="6.6"/><circle cx="401.8" cy="1540.2" r="6.6"/></g>
<line x1="614.6" y1="1382.9" x2="614.6" y2="1698.9" stroke="#000" stroke-width="2.5"/>
<line x1="609.1" y1="1697.7" x2="927.8" y2="1697.7" stroke="#000" stroke-width="2.5"/>
<path d="M605 1384.1H614.6 M605 1520.4H614.6 M605 1656.7H614.6 M609 1479.37H614.6 M609 1455.37H614.6 M609 1438.34H614.6 M609 1425.13H614.6 M609 1414.34H614.6 M609 1405.21H614.6 M609 1397.31H614.6 M609 1390.34H614.6 M609 1615.67H614.6 M609 1591.67H614.6 M609 1574.64H614.6 M609 1561.43H614.6 M609 1550.64H614.6 M609 1541.51H614.6 M609 1533.61H614.6 M609 1526.64H614.6 M609 1686.94H614.6 M609 1677.81H614.6 M609 1669.91H614.6 M609 1662.94H614.6" stroke="#000" stroke-width="2.3" fill="none"/>
<path d="M677.5 1412V1433.3 M661 1412H694 M677.5 1499.9V1697.7 M661 1697.7H694 M645.8 1433.3H709.2V1499.9H645.8Z M645.8 1466.6H709.2 M771.7 1410.9V1433.7 M755.2 1410.9H788.2 M771.7 1486.8V1697.7 M755.2 1697.7H788.2 M740 1433.7H803.4V1486.8H740Z M740 1448.7H803.4 M865.6 1438.3V1447.4 M849.1 1438.3H882.1 M865.6 1484.3V1496.6 M849.1 1496.6H882.1 M833.9 1447.4H897.3V1484.3H833.9Z M833.9 1461.5H897.3" stroke="#a8a8a8" stroke-width="2.2" fill="none"/>
<line x1="615.6" y1="1657.4" x2="931.3" y2="1657.4" stroke="#c9f3dc" stroke-width="4.5"/>
<line x1="615.6" y1="1658" x2="931.3" y2="1658" stroke="#2e8558" stroke-width="2.2" stroke-dasharray="2.1 0.9"/>
<line x1="615.6" y1="1656.9" x2="931.3" y2="1656.9" stroke="#0b2015" stroke-width="1.6" stroke-dasharray="1.6 1.4"/>
<g fill="#7dcbea" stroke="#17384a" stroke-width="1.6"><circle cx="691.6" cy="1409.9" r="6.6"/><circle cx="663.1" cy="1415.7" r="6.6"/><circle cx="677.1" cy="1415.7" r="6.6"/><circle cx="650.6" cy="1427" r="6.6"/><circle cx="662.2" cy="1428.4" r="6.6"/><circle cx="672.3" cy="1430.8" r="6.6"/><circle cx="682" cy="1429.4" r="6.6"/><circle cx="693.1" cy="1428" r="6.6"/><circle cx="704.2" cy="1426.3" r="6.6"/><circle cx="663.1" cy="1436.6" r="6.6"/><circle cx="691.6" cy="1436.2" r="6.6"/><circle cx="677.1" cy="1446.6" r="6.6"/><circle cx="653" cy="1467.5" r="6.6"/><circle cx="677.1" cy="1465.9" r="6.6"/><circle cx="702.2" cy="1467" r="6.6"/><circle cx="665.1" cy="1475.3" r="6.6"/><circle cx="689.7" cy="1471.9" r="6.6"/><circle cx="677.1" cy="1481" r="6.6"/><circle cx="663.1" cy="1498.4" r="6.6"/><circle cx="691.6" cy="1502.3" r="6.6"/><circle cx="669.9" cy="1514.3" r="6.6"/><circle cx="677.1" cy="1509" r="6.6"/><circle cx="684.7" cy="1526.4" r="6.6"/><circle cx="670.4" cy="1697.7" r="6.6"/><circle cx="684.4" cy="1697.7" r="6.6"/></g>
<g fill="#2690d2" stroke="#0b2740" stroke-width="1.6"><circle cx="771.7" cy="1410.9" r="6.6"/><circle cx="747.1" cy="1423.1" r="6.6"/><circle cx="796.3" cy="1422.2" r="6.6"/><circle cx="759.7" cy="1432.5" r="6.6"/><circle cx="771.7" cy="1433.5" r="6.6"/><circle cx="783.8" cy="1431.8" r="6.6"/><circle cx="747.6" cy="1440" r="6.6"/><circle cx="754.8" cy="1443.4" r="6.6"/><circle cx="763.5" cy="1447.3" r="6.6"/><circle cx="771.7" cy="1450.2" r="6.6"/><circle cx="788.1" cy="1442.9" r="6.6"/><circle cx="796.3" cy="1442.1" r="6.6"/><circle cx="779.4" cy="1449.2" r="6.6"/><circle cx="750" cy="1460.5" r="6.6"/><circle cx="793.4" cy="1460.8" r="6.6"/><circle cx="764.5" cy="1468.5" r="6.6"/><circle cx="779" cy="1471.7" r="6.6"/><circle cx="771.7" cy="1487.3" r="6.6"/><circle cx="764.5" cy="1539.4" r="6.6"/><circle cx="779" cy="1539.4" r="6.6"/><circle cx="757.7" cy="1697.7" r="6.6"/><circle cx="771.7" cy="1697.7" r="6.6"/><circle cx="785.8" cy="1697.7" r="6.6"/></g>
<g fill="#e2321f" stroke="#3d0c06" stroke-width="1.6"><circle cx="850.8" cy="1438.3" r="6.6"/><circle cx="865.4" cy="1443.9" r="6.6"/><circle cx="879.5" cy="1440.8" r="6.6"/><circle cx="890" cy="1452.7" r="6.6"/><circle cx="840.8" cy="1459.7" r="6.6"/><circle cx="853.1" cy="1462.4" r="6.6"/><circle cx="877.7" cy="1460.6" r="6.6"/><circle cx="865.4" cy="1465.9" r="6.6"/><circle cx="843.8" cy="1485.2" r="6.6"/><circle cx="887" cy="1484" r="6.6"/><circle cx="858.4" cy="1497" r="6.6"/><circle cx="872.4" cy="1495.8" r="6.6"/></g>
<line x1="1194.6" y1="1382.9" x2="1194.6" y2="1698.9" stroke="#000" stroke-width="2.5"/>
<line x1="1189.1" y1="1697.7" x2="1509.8" y2="1697.7" stroke="#000" stroke-width="2.5"/>
<path d="M1185 1384.1H1194.6 M1185 1520.4H1194.6 M1185 1656.7H1194.6 M1189 1479.37H1194.6 M1189 1455.37H1194.6 M1189 1438.34H1194.6 M1189 1425.13H1194.6 M1189 1414.34H1194.6 M1189 1405.21H1194.6 M1189 1397.31H1194.6 M1189 1390.34H1194.6 M1189 1615.67H1194.6 M1189 1591.67H1194.6 M1189 1574.64H1194.6 M1189 1561.43H1194.6 M1189 1550.64H1194.6 M1189 1541.51H1194.6 M1189 1533.61H1194.6 M1189 1526.64H1194.6 M1189 1686.94H1194.6 M1189 1677.81H1194.6 M1189 1669.91H1194.6 M1189 1662.94H1194.6" stroke="#000" stroke-width="2.3" fill="none"/>
<path d="M1257.7 1415V1439 M1241.2 1415H1274.2 M1226 1439H1289.4V1697.7H1226Z M1226 1469.8H1289.4 M1352.5 1434.4V1459.8 M1336 1434.4H1369 M1352.5 1494.9V1697.7 M1336 1697.7H1369 M1320.8 1459.8H1384.2V1494.9H1320.8Z M1320.8 1475H1384.2 M1446.9 1403.6V1419 M1430.4 1403.6H1463.4 M1446.9 1468V1503.9 M1430.4 1503.9H1463.4 M1415.2 1419H1478.6V1468H1415.2Z M1415.2 1444.1H1478.6" stroke="#a8a8a8" stroke-width="2.2" fill="none"/>
<line x1="1195.6" y1="1658.1" x2="1513.4" y2="1658.1" stroke="#c9f3dc" stroke-width="4.5"/>
<line x1="1195.6" y1="1658.7" x2="1513.4" y2="1658.7" stroke="#2e8558" stroke-width="2.2" stroke-dasharray="2.1 0.9"/>
<line x1="1195.6" y1="1657.6" x2="1513.4" y2="1657.6" stroke="#0b2015" stroke-width="1.6" stroke-dasharray="1.6 1.4"/>
<g fill="#7dcbea" stroke="#17384a" stroke-width="1.6"><circle cx="1243.1" cy="1415" r="6.6"/><circle cx="1257.6" cy="1415" r="6.6"/><circle cx="1272.6" cy="1415" r="6.6"/><circle cx="1250.3" cy="1427.7" r="6.6"/><circle cx="1264.8" cy="1438.1" r="6.6"/><circle cx="1243.1" cy="1451.7" r="6.6"/><circle cx="1272.6" cy="1458.9" r="6.6"/><circle cx="1230.9" cy="1469.5" r="6.6"/><circle cx="1241.8" cy="1469.5" r="6.6"/><circle cx="1252.1" cy="1471.3" r="6.6"/><circle cx="1257.6" cy="1462.9" r="6.6"/><circle cx="1284.8" cy="1469.5" r="6.6"/><circle cx="1273.9" cy="1469.8" r="6.6"/><circle cx="1263" cy="1479.3" r="6.6"/><circle cx="1233.1" cy="1697.7" r="6.6"/><circle cx="1245.4" cy="1697.7" r="6.6"/><circle cx="1257.6" cy="1697.7" r="6.6"/><circle cx="1270.3" cy="1697.7" r="6.6"/><circle cx="1282.4" cy="1697.7" r="6.6"/></g>
<g fill="#2690d2" stroke="#0b2740" stroke-width="1.6"><circle cx="1338" cy="1435.4" r="6.6"/><circle cx="1367" cy="1435" r="6.6"/><circle cx="1352.5" cy="1444.8" r="6.6"/><circle cx="1327.8" cy="1455.7" r="6.6"/><circle cx="1377.3" cy="1458" r="6.6"/><circle cx="1340.1" cy="1462.2" r="6.6"/><circle cx="1352.5" cy="1464.4" r="6.6"/><circle cx="1364.6" cy="1463.5" r="6.6"/><circle cx="1330.2" cy="1473.1" r="6.6"/><circle cx="1345.2" cy="1473.8" r="6.6"/><circle cx="1374.2" cy="1473.5" r="6.6"/><circle cx="1359.2" cy="1479.8" r="6.6"/><circle cx="1338" cy="1482.9" r="6.6"/><circle cx="1367" cy="1490.7" r="6.6"/><circle cx="1352.5" cy="1496.1" r="6.6"/><circle cx="1345.2" cy="1507.6" r="6.6"/><circle cx="1359.2" cy="1512.5" r="6.6"/><circle cx="1345.2" cy="1697.7" r="6.6"/><circle cx="1359.7" cy="1697.7" r="6.6"/></g>
<g fill="#e2321f" stroke="#3d0c06" stroke-width="1.6"><circle cx="1439.6" cy="1403.6" r="6.6"/><circle cx="1454.1" cy="1410.9" r="6.6"/><circle cx="1425" cy="1419.4" r="6.6"/><circle cx="1468" cy="1418.1" r="6.6"/><circle cx="1439.6" cy="1430.3" r="6.6"/><circle cx="1454.1" cy="1427.2" r="6.6"/><circle cx="1421.8" cy="1464.4" r="6.6"/><circle cx="1434.8" cy="1469.8" r="6.6"/><circle cx="1459" cy="1466.2" r="6.6"/><circle cx="1471.7" cy="1461.7" r="6.6"/><circle cx="1447.2" cy="1476.2" r="6.6"/><circle cx="1447.2" cy="1503.9" r="6.6"/></g>
<line x1="1659.7" y1="1382.9" x2="1659.7" y2="1698.9" stroke="#000" stroke-width="2.5"/>
<line x1="1654.2" y1="1697.7" x2="1974.3" y2="1697.7" stroke="#000" stroke-width="2.5"/>
<path d="M1650.1 1384.1H1659.7 M1650.1 1520.4H1659.7 M1650.1 1656.7H1659.7 M1654.1 1479.37H1659.7 M1654.1 1455.37H1659.7 M1654.1 1438.34H1659.7 M1654.1 1425.13H1659.7 M1654.1 1414.34H1659.7 M1654.1 1405.21H1659.7 M1654.1 1397.31H1659.7 M1654.1 1390.34H1659.7 M1654.1 1615.67H1659.7 M1654.1 1591.67H1659.7 M1654.1 1574.64H1659.7 M1654.1 1561.43H1659.7 M1654.1 1550.64H1659.7 M1654.1 1541.51H1659.7 M1654.1 1533.61H1659.7 M1654.1 1526.64H1659.7 M1654.1 1686.94H1659.7 M1654.1 1677.81H1659.7 M1654.1 1669.91H1659.7 M1654.1 1662.94H1659.7" stroke="#000" stroke-width="2.3" fill="none"/>
<path d="M1721.7 1396.1V1419.3 M1705.2 1396.1H1738.2 M1721.7 1524.9V1697.7 M1705.2 1697.7H1738.2 M1690 1419.3H1753.4V1524.9H1690Z M1816.6 1398.2V1427.4 M1800.1 1398.2H1833.1 M1784.9 1427.4H1848.3V1697.7H1784.9Z M1911.6 1402.1V1420.2 M1895.1 1402.1H1928.1 M1911.6 1443.2V1457.6 M1895.1 1457.6H1928.1 M1879.9 1420.2H1943.3V1443.2H1879.9Z" stroke="#a8a8a8" stroke-width="2.2" fill="none"/>
<line x1="1660.7" y1="1630.7" x2="1979" y2="1630.7" stroke="#c9f3dc" stroke-width="4.5"/>
<line x1="1660.7" y1="1638.2" x2="1979" y2="1638.2" stroke="#111" stroke-width="2.2" stroke-dasharray="2.1 0.9"/>
<line x1="1660.7" y1="1630.7" x2="1979" y2="1630.7" stroke="#2f9a62" stroke-width="2.2" stroke-dasharray="2.1 0.9"/>
<g fill="#7dcbea" stroke="#17384a" stroke-width="1.6"><circle cx="1729" cy="1396.1" r="6.6"/><circle cx="1714.7" cy="1403.7" r="6.6"/><circle cx="1746.3" cy="1406" r="6.6"/><circle cx="1697" cy="1415.2" r="6.6"/><circle cx="1709.6" cy="1418" r="6.6"/><circle cx="1722" cy="1418.6" r="6.6"/><circle cx="1734.3" cy="1416.9" r="6.6"/><circle cx="1697.3" cy="1427.8" r="6.6"/><circle cx="1709.6" cy="1434.6" r="6.6"/><circle cx="1721.5" cy="1440.2" r="6.6"/><circle cx="1729" cy="1433.3" r="6.6"/><circle cx="1746.5" cy="1442.8" r="6.6"/><circle cx="1740.4" cy="1435.1" r="6.6"/><circle cx="1697" cy="1446.8" r="6.6"/><circle cx="1709.6" cy="1449.4" r="6.6"/><circle cx="1722" cy="1455.3" r="6.6"/><circle cx="1734.1" cy="1447.9" r="6.6"/><circle cx="1729" cy="1475.1" r="6.6"/><circle cx="1714.7" cy="1487.1" r="6.6"/><circle cx="1722.1" cy="1671.5" r="6.6"/><circle cx="1697.4" cy="1697.7" r="6.6"/><circle cx="1709.6" cy="1697.7" r="6.6"/><circle cx="1722.1" cy="1697.7" r="6.6"/><circle cx="1734.5" cy="1697.7" r="6.6"/><circle cx="1746.4" cy="1697.7" r="6.6"/></g>
<g fill="#2690d2" stroke="#0b2740" stroke-width="1.6"><circle cx="1816.4" cy="1398.2" r="6.6"/><circle cx="1838.4" cy="1409.6" r="6.6"/><circle cx="1794.7" cy="1419.3" r="6.6"/><circle cx="1809.3" cy="1420.8" r="6.6"/><circle cx="1823.9" cy="1420" r="6.6"/><circle cx="1841.4" cy="1426.9" r="6.6"/><circle cx="1791.9" cy="1431.8" r="6.6"/><circle cx="1804.2" cy="1438.7" r="6.6"/><circle cx="1816.7" cy="1440.2" r="6.6"/><circle cx="1829.2" cy="1435.9" r="6.6"/><circle cx="1794.7" cy="1449.4" r="6.6"/><circle cx="1809.3" cy="1455.5" r="6.6"/><circle cx="1823.9" cy="1449.9" r="6.6"/><circle cx="1838.4" cy="1447.9" r="6.6"/><circle cx="1809.3" cy="1471.3" r="6.6"/><circle cx="1823.9" cy="1479.5" r="6.6"/><circle cx="1791.9" cy="1697.7" r="6.6"/><circle cx="1800.3" cy="1697.7" r="6.6"/><circle cx="1808.7" cy="1697.7" r="6.6"/><circle cx="1816.8" cy="1697.7" r="6.6"/><circle cx="1824.3" cy="1697.7" r="6.6"/><circle cx="1832.1" cy="1697.7" r="6.6"/><circle cx="1840.5" cy="1697.7" r="6.6"/></g>
<g fill="#e2321f" stroke="#3d0c06" stroke-width="1.6"><circle cx="1903.6" cy="1402.1" r="6.6"/><circle cx="1918.2" cy="1407.1" r="6.6"/><circle cx="1935" cy="1415.5" r="6.6"/><circle cx="1896.7" cy="1419.7" r="6.6"/><circle cx="1924.7" cy="1420.2" r="6.6"/><circle cx="1888.6" cy="1427.7" r="6.6"/><circle cx="1903.2" cy="1430.5" r="6.6"/><circle cx="1911.1" cy="1425.8" r="6.6"/><circle cx="1932.8" cy="1427.7" r="6.6"/><circle cx="1918.2" cy="1440.2" r="6.6"/><circle cx="1896.7" cy="1445.5" r="6.6"/><circle cx="1911.1" cy="1457.6" r="6.6"/><circle cx="1925.7" cy="1455.8" r="6.6"/></g>
<text transform="translate(90.2,78) scale(1,1.02)" font-size="28.3">100</text>
<text transform="translate(103.93,215.1) scale(1,1.02)" font-size="28.3">10</text>
<text transform="translate(113.65,352.2) scale(1,1.02)" font-size="28.3">1</text>
<text transform="translate(114.67,393.3) scale(1,1.02)" font-size="28.3">0</text>
<text transform="translate(554.4,78) scale(1,1.02)" font-size="28.3">100</text>
<text transform="translate(568.13,215.1) scale(1,1.02)" font-size="28.3">10</text>
<text transform="translate(577.85,352.2) scale(1,1.02)" font-size="28.3">1</text>
<text transform="translate(578.87,393.3) scale(1,1.02)" font-size="28.3">0</text>
<text transform="translate(1134.4,78) scale(1,1.02)" font-size="28.3">100</text>
<text transform="translate(1148.13,215.1) scale(1,1.02)" font-size="28.3">10</text>
<text transform="translate(1157.85,352.2) scale(1,1.02)" font-size="28.3">1</text>
<text transform="translate(1158.87,393.3) scale(1,1.02)" font-size="28.3">0</text>
<text transform="translate(1599.5,78) scale(1,1.02)" font-size="28.3">100</text>
<text transform="translate(1613.23,215.1) scale(1,1.02)" font-size="28.3">10</text>
<text transform="translate(1622.95,352.2) scale(1,1.02)" font-size="28.3">1</text>
<text transform="translate(1623.97,393.3) scale(1,1.02)" font-size="28.3">0</text>
<text transform="translate(90.2,735.3) scale(1,1.02)" font-size="28.3">100</text>
<text transform="translate(103.93,872.5) scale(1,1.02)" font-size="28.3">10</text>
<text transform="translate(113.65,1009.7) scale(1,1.02)" font-size="28.3">1</text>
<text transform="translate(114.67,1050.7) scale(1,1.02)" font-size="28.3">0</text>
<text transform="translate(554.4,735.3) scale(1,1.02)" font-size="28.3">100</text>
<text transform="translate(568.13,872.5) scale(1,1.02)" font-size="28.3">10</text>
<text transform="translate(577.85,1009.7) scale(1,1.02)" font-size="28.3">1</text>
<text transform="translate(578.87,1050.7) scale(1,1.02)" font-size="28.3">0</text>
<text transform="translate(1134.4,735.3) scale(1,1.02)" font-size="28.3">100</text>
<text transform="translate(1148.13,872.5) scale(1,1.02)" font-size="28.3">10</text>
<text transform="translate(1157.85,1009.7) scale(1,1.02)" font-size="28.3">1</text>
<text transform="translate(1158.87,1050.7) scale(1,1.02)" font-size="28.3">0</text>
<text transform="translate(1599.5,735.3) scale(1,1.02)" font-size="28.3">100</text>
<text transform="translate(1613.23,872.5) scale(1,1.02)" font-size="28.3">10</text>
<text transform="translate(1622.95,1009.7) scale(1,1.02)" font-size="28.3">1</text>
<text transform="translate(1623.97,1050.7) scale(1,1.02)" font-size="28.3">0</text>
<text transform="translate(90.2,1390.5) scale(1,1.02)" font-size="28.3">100</text>
<text transform="translate(103.93,1526.8) scale(1,1.02)" font-size="28.3">10</text>
<text transform="translate(113.65,1663.1) scale(1,1.02)" font-size="28.3">1</text>
<text transform="translate(114.67,1703.9) scale(1,1.02)" font-size="28.3">0</text>
<text transform="translate(554.4,1390.5) scale(1,1.02)" font-size="28.3">100</text>
<text transform="translate(568.13,1526.8) scale(1,1.02)" font-size="28.3">10</text>
<text transform="translate(577.85,1663.1) scale(1,1.02)" font-size="28.3">1</text>
<text transform="translate(578.87,1703.9) scale(1,1.02)" font-size="28.3">0</text>
<text transform="translate(1134.4,1390.5) scale(1,1.02)" font-size="28.3">100</text>
<text transform="translate(1148.13,1526.8) scale(1,1.02)" font-size="28.3">10</text>
<text transform="translate(1157.85,1663.1) scale(1,1.02)" font-size="28.3">1</text>
<text transform="translate(1158.87,1703.9) scale(1,1.02)" font-size="28.3">0</text>
<text transform="translate(1599.5,1390.5) scale(1,1.02)" font-size="28.3">100</text>
<text transform="translate(1613.23,1526.8) scale(1,1.02)" font-size="28.3">10</text>
<text transform="translate(1622.95,1663.1) scale(1,1.02)" font-size="28.3">1</text>
<text transform="translate(1623.97,1703.9) scale(1,1.02)" font-size="28.3">0</text>
<text transform="translate(293.27,54.7) scale(1,1.03)" font-size="28.6">T0</text>
<text transform="translate(752.14,54.5) scale(1,1.03)" font-size="28.6">6M</text>
<text transform="translate(1338.27,54.3) scale(1,1.03)" font-size="28.6">T0</text>
<text transform="translate(1796.64,53.8) scale(1,1.03)" font-size="28.6">6M</text>
<text transform="translate(293.47,706.5) scale(1,1.03)" font-size="28.6">T0</text>
<text transform="translate(752.04,706.5) scale(1,1.03)" font-size="28.6">6M</text>
<text transform="translate(1338.87,706.4) scale(1,1.03)" font-size="28.6">T0</text>
<text transform="translate(1796.54,706.4) scale(1,1.03)" font-size="28.6">6M</text>
<text transform="translate(293.67,1353.9) scale(1,1.03)" font-size="28.6">T0</text>
<text transform="translate(752.04,1353.9) scale(1,1.03)" font-size="28.6">6M</text>
<text transform="translate(1338.87,1353.9) scale(1,1.03)" font-size="28.6">T0</text>
<text transform="translate(1796.54,1353.9) scale(1,1.03)" font-size="28.6">6M</text>
<text x="179.08" y="421.5" font-size="29.07">α-CD3/CD28 beads</text>
<text x="273.08" y="456.4" font-size="29.07">+ IL-2</text>
<text x="644.49" y="421.2" font-size="28.81">α-CD3/CD28 beads</text>
<text x="737.69" y="455.9" font-size="28.81">+ IL-2</text>
<text x="1222.18" y="420.7" font-size="28.98">α-CD3/CD28 beads</text>
<text x="1316.18" y="455" font-size="28.98">+ IL-2</text>
<text x="1685.99" y="420.5" font-size="28.9">α-CD3/CD28 beads</text>
<text x="1779.28" y="454.6" font-size="28.9">+ IL-2</text>
<text x="179.78" y="1082" font-size="28.99">α-CD3/CD28 beads</text>
<text x="273.08" y="1117.1" font-size="28.99">+ IL-2</text>
<text x="640.59" y="1082.2" font-size="28.81">α-CD3/CD28 beads</text>
<text x="733.89" y="1117.1" font-size="28.81">+ IL-2</text>
<text x="1226.78" y="1082.2" font-size="28.98">α-CD3/CD28 beads</text>
<text x="1320.78" y="1117.1" font-size="28.98">+ IL-2</text>
<text x="1685.98" y="1082.2" font-size="28.99">α-CD3/CD28 beads</text>
<text x="1779.28" y="1117.1" font-size="28.99">+ IL-2</text>
<text x="179.78" y="1736.1" font-size="28.99">α-CD3/CD28 beads</text>
<text x="273.08" y="1771.2" font-size="28.99">+ IL-2</text>
<text x="646.79" y="1736" font-size="28.81">α-CD3/CD28 beads</text>
<text x="740.79" y="1771.1" font-size="28.81">+ IL-2</text>
<text x="1225.29" y="1736" font-size="28.89">α-CD3/CD28 beads</text>
<text x="1319.28" y="1771.1" font-size="28.89">+ IL-2</text>
<text x="1685.98" y="1736" font-size="28.99">α-CD3/CD28 beads</text>
<text x="1779.28" y="1771.1" font-size="28.99">+ IL-2</text>
<text transform="translate(73.8,359.78) rotate(-90) scale(1,1.04)" font-size="29.0">CD4</text>
<text transform="translate(64.7,301.87) rotate(-90)" font-size="17.8">+</text>
<text transform="translate(73.8,282.34) rotate(-90) scale(1,1.04)" font-size="29.0">T</text>
<text transform="translate(86.6,264.58) rotate(-90) scale(1,1.04)" font-size="21.2">CM1</text>
<text transform="translate(73.8,210.52) rotate(-90) scale(1,1.04)" font-size="29.0">cells</text>
<text transform="translate(73.8,135.3) rotate(-90) scale(1,1.04)" font-size="29.0">(%)</text>
<text transform="translate(540.5,360.48) rotate(-90) scale(1,1.04)" font-size="29.0">CD4</text>
<text transform="translate(531.4,302.57) rotate(-90)" font-size="17.8">+</text>
<text transform="translate(540.5,283.04) rotate(-90) scale(1,1.04)" font-size="29.0">T</text>
<text transform="translate(553.3,265.28) rotate(-90) scale(1,1.04)" font-size="21.2">CM1</text>
<text transform="translate(540.5,211.22) rotate(-90) scale(1,1.04)" font-size="29.0">cells</text>
<text transform="translate(540.5,136) rotate(-90) scale(1,1.04)" font-size="29.0">(%)</text>
<text transform="translate(1123.6,360.48) rotate(-90) scale(1,1.04)" font-size="29.0">CD8</text>
<text transform="translate(1114.5,302.57) rotate(-90)" font-size="17.8">+</text>
<text transform="translate(1123.6,283.04) rotate(-90) scale(1,1.04)" font-size="29.0">T</text>
<text transform="translate(1136.4,265.28) rotate(-90) scale(1,1.04)" font-size="21.2">CM1</text>
<text transform="translate(1123.6,211.22) rotate(-90) scale(1,1.04)" font-size="29.0">cells</text>
<text transform="translate(1123.6,136) rotate(-90) scale(1,1.04)" font-size="29.0">(%)</text>
<text transform="translate(1576.2,360.48) rotate(-90) scale(1,1.04)" font-size="29.0">CD8</text>
<text transform="translate(1567.1,302.57) rotate(-90)" font-size="17.8">+</text>
<text transform="translate(1576.2,283.04) rotate(-90) scale(1,1.04)" font-size="29.0">T</text>
<text transform="translate(1589,265.28) rotate(-90) scale(1,1.04)" font-size="21.2">CM1</text>
<text transform="translate(1576.2,211.22) rotate(-90) scale(1,1.04)" font-size="29.0">cells</text>
<text transform="translate(1576.2,136) rotate(-90) scale(1,1.04)" font-size="29.0">(%)</text>
<text transform="translate(74.8,1007.98) rotate(-90) scale(1,1.04)" font-size="29.0">CD4</text>
<text transform="translate(65.7,950.37) rotate(-90)" font-size="17.8">+</text>
<text transform="translate(74.8,929.64) rotate(-90) scale(1,1.04)" font-size="29.0">T</text>
<text transform="translate(87.6,911.64) rotate(-90) scale(1,1.04)" font-size="21.2">EM1</text>
<text transform="translate(74.8,862.32) rotate(-90) scale(1,1.04)" font-size="29.0">cells</text>
<text transform="translate(74.8,787.2) rotate(-90) scale(1,1.04)" font-size="29.0">(%)</text>
<text transform="translate(538.4,1007.98) rotate(-90) scale(1,1.04)" font-size="29.0">CD4</text>
<text transform="translate(529.3,950.37) rotate(-90)" font-size="17.8">+</text>
<text transform="translate(538.4,929.64) rotate(-90) scale(1,1.04)" font-size="29.0">T</text>
<text transform="translate(551.2,911.64) rotate(-90) scale(1,1.04)" font-size="21.2">EM1</text>
<text transform="translate(538.4,862.32) rotate(-90) scale(1,1.04)" font-size="29.0">cells</text>
<text transform="translate(538.4,787.2) rotate(-90) scale(1,1.04)" font-size="29.0">(%)</text>
<text transform="translate(1124.2,1007.98) rotate(-90) scale(1,1.04)" font-size="29.0">CD8</text>
<text transform="translate(1115.1,950.37) rotate(-90)" font-size="17.8">+</text>
<text transform="translate(1124.2,929.64) rotate(-90) scale(1,1.04)" font-size="29.0">T</text>
<text transform="translate(1137,911.64) rotate(-90) scale(1,1.04)" font-size="21.2">EM1</text>
<text transform="translate(1124.2,862.32) rotate(-90) scale(1,1.04)" font-size="29.0">cells</text>
<text transform="translate(1124.2,787.2) rotate(-90) scale(1,1.04)" font-size="29.0">(%)</text>
<text transform="translate(1576.5,1007.98) rotate(-90) scale(1,1.04)" font-size="29.0">CD8</text>
<text transform="translate(1567.4,950.37) rotate(-90)" font-size="17.8">+</text>
<text transform="translate(1576.5,929.64) rotate(-90) scale(1,1.04)" font-size="29.0">T</text>
<text transform="translate(1589.3,911.64) rotate(-90) scale(1,1.04)" font-size="21.2">EM1</text>
<text transform="translate(1576.5,862.32) rotate(-90) scale(1,1.04)" font-size="29.0">cells</text>
<text transform="translate(1576.5,787.2) rotate(-90) scale(1,1.04)" font-size="29.0">(%)</text>
<text transform="translate(74.8,1686.58) rotate(-90) scale(1,1.04)" font-size="29.0">CD4</text>
<text transform="translate(65.7,1629.47) rotate(-90)" font-size="17.8">+</text>
<text transform="translate(74.8,1608.64) rotate(-90) scale(1,1.04)" font-size="29.0">T</text>
<text transform="translate(87.6,1591.04) rotate(-90) scale(1,1.04)" font-size="21.2">EM2</text>
<text transform="translate(74.8,1541.92) rotate(-90) scale(1,1.04)" font-size="29.0">cells</text>
<text transform="translate(74.8,1467.6) rotate(-90) scale(1,1.04)" font-size="29.0">(%)</text>
<text transform="translate(538.3,1686.58) rotate(-90) scale(1,1.04)" font-size="29.0">CD4</text>
<text transform="translate(529.2,1629.47) rotate(-90)" font-size="17.8">+</text>
<text transform="translate(538.3,1608.64) rotate(-90) scale(1,1.04)" font-size="29.0">T</text>
<text transform="translate(551.1,1591.04) rotate(-90) scale(1,1.04)" font-size="21.2">EM2</text>
<text transform="translate(538.3,1541.92) rotate(-90) scale(1,1.04)" font-size="29.0">cells</text>
<text transform="translate(538.3,1467.6) rotate(-90) scale(1,1.04)" font-size="29.0">(%)</text>
<text transform="translate(1123.4,1686.58) rotate(-90) scale(1,1.04)" font-size="29.0">CD8</text>
<text transform="translate(1114.3,1629.47) rotate(-90)" font-size="17.8">+</text>
<text transform="translate(1123.4,1608.64) rotate(-90) scale(1,1.04)" font-size="29.0">T</text>
<text transform="translate(1136.2,1591.04) rotate(-90) scale(1,1.04)" font-size="21.2">EM2</text>
<text transform="translate(1123.4,1541.92) rotate(-90) scale(1,1.04)" font-size="29.0">cells</text>
<text transform="translate(1123.4,1467.6) rotate(-90) scale(1,1.04)" font-size="29.0">(%)</text>
<text transform="translate(1576.5,1686.58) rotate(-90) scale(1,1.04)" font-size="29.0">CD8</text>
<text transform="translate(1567.4,1629.47) rotate(-90)" font-size="17.8">+</text>
<text transform="translate(1576.5,1608.64) rotate(-90) scale(1,1.04)" font-size="29.0">T</text>
<text transform="translate(1589.3,1591.04) rotate(-90) scale(1,1.04)" font-size="21.2">EM2</text>
<text transform="translate(1576.5,1541.92) rotate(-90) scale(1,1.04)" font-size="29.0">cells</text>
<text transform="translate(1576.5,1467.6) rotate(-90) scale(1,1.04)" font-size="29.0">(%)</text>
<circle cx="932.5" cy="87" r="7.6" fill="#7dcbea" stroke="#17384a" stroke-width="1.7"/>
<circle cx="932.5" cy="125.9" r="7.6" fill="#2690d2" stroke="#0b2740" stroke-width="1.7"/>
<circle cx="932.5" cy="166.3" r="7.6" fill="#e2321f" stroke="#3d0c06" stroke-width="1.7"/>
<text x="950.65" y="96.9" font-size="29.0">V</text>
<text x="968.64" y="103.3" font-size="19.0">N</text>
<text x="982.12" y="96.9" font-size="29.0">LR</text>
<text x="950.65" y="136.6" font-size="29.0">V</text>
<text x="968.64" y="143" font-size="19.0">N</text>
<text x="982.12" y="136.6" font-size="29.0">HR</text>
<text x="950.65" y="176.7" font-size="29.0">V</text>
<text x="969.04" y="183.1" font-size="19.0">R</text>
<circle cx="1987.6" cy="85.4" r="7.6" fill="#7dcbea" stroke="#17384a" stroke-width="1.7"/>
<circle cx="1987.6" cy="124.7" r="7.6" fill="#2690d2" stroke="#0b2740" stroke-width="1.7"/>
<circle cx="1987.6" cy="165.2" r="7.6" fill="#e2321f" stroke="#3d0c06" stroke-width="1.7"/>
<text x="2005.75" y="96.1" font-size="29.0">V</text>
<text x="2023.74" y="102.5" font-size="19.0">N</text>
<text x="2037.22" y="96.1" font-size="29.0">LR</text>
<text x="2005.75" y="135.8" font-size="29.0">V</text>
<text x="2023.74" y="142.2" font-size="19.0">N</text>
<text x="2037.22" y="135.8" font-size="29.0">HR</text>
<text x="2005.75" y="175.1" font-size="29.0">V</text>
<text x="2024.14" y="181.5" font-size="19.0">R</text>
<circle cx="932.4" cy="733" r="7.6" fill="#7dcbea" stroke="#17384a" stroke-width="1.7"/>
<circle cx="932.4" cy="772.3" r="7.6" fill="#2690d2" stroke="#0b2740" stroke-width="1.7"/>
<circle cx="932.4" cy="812.4" r="7.6" fill="#e2321f" stroke="#3d0c06" stroke-width="1.7"/>
<text x="950.55" y="743.3" font-size="29.0">V</text>
<text x="968.54" y="749.7" font-size="19.0">N</text>
<text x="982.02" y="743.3" font-size="29.0">LR</text>
<text x="950.55" y="783" font-size="29.0">V</text>
<text x="968.54" y="789.4" font-size="19.0">N</text>
<text x="982.02" y="783" font-size="29.0">HR</text>
<text x="950.55" y="822.7" font-size="29.0">V</text>
<text x="968.94" y="829.1" font-size="19.0">R</text>
<circle cx="1988.6" cy="732.1" r="7.6" fill="#7dcbea" stroke="#17384a" stroke-width="1.7"/>
<circle cx="1988.6" cy="771" r="7.6" fill="#2690d2" stroke="#0b2740" stroke-width="1.7"/>
<circle cx="1988.6" cy="811.5" r="7.6" fill="#e2321f" stroke="#3d0c06" stroke-width="1.7"/>
<text x="2006.75" y="742.5" font-size="29.0">V</text>
<text x="2024.74" y="748.9" font-size="19.0">N</text>
<text x="2038.22" y="742.5" font-size="29.0">LR</text>
<text x="2006.75" y="782.1" font-size="29.0">V</text>
<text x="2024.74" y="788.5" font-size="19.0">N</text>
<text x="2038.22" y="782.1" font-size="29.0">HR</text>
<text x="2006.75" y="821.8" font-size="29.0">V</text>
<text x="2025.14" y="828.2" font-size="19.0">R</text>
<circle cx="933.4" cy="1401.7" r="7.6" fill="#7dcbea" stroke="#17384a" stroke-width="1.7"/>
<circle cx="933.4" cy="1441" r="7.6" fill="#2690d2" stroke="#0b2740" stroke-width="1.7"/>
<circle cx="933.4" cy="1481.5" r="7.6" fill="#e2321f" stroke="#3d0c06" stroke-width="1.7"/>
<text x="951.55" y="1412.1" font-size="29.0">V</text>
<text x="969.54" y="1418.5" font-size="19.0">N</text>
<text x="983.02" y="1412.1" font-size="29.0">LR</text>
<text x="951.55" y="1452.1" font-size="29.0">V</text>
<text x="969.54" y="1458.5" font-size="19.0">N</text>
<text x="983.02" y="1452.1" font-size="29.0">HR</text>
<text x="951.55" y="1491.8" font-size="29.0">V</text>
<text x="969.94" y="1498.2" font-size="19.0">R</text>
<circle cx="1987.6" cy="1400.6" r="7.6" fill="#7dcbea" stroke="#17384a" stroke-width="1.7"/>
<circle cx="1987.6" cy="1439.4" r="7.6" fill="#2690d2" stroke="#0b2740" stroke-width="1.7"/>
<circle cx="1987.6" cy="1479.9" r="7.6" fill="#e2321f" stroke="#3d0c06" stroke-width="1.7"/>
<text x="2005.75" y="1410.9" font-size="29.0">V</text>
<text x="2023.74" y="1417.3" font-size="19.0">N</text>
<text x="2037.22" y="1410.9" font-size="29.0">LR</text>
<text x="2005.75" y="1450.6" font-size="29.0">V</text>
<text x="2023.74" y="1457" font-size="19.0">N</text>
<text x="2037.22" y="1450.6" font-size="29.0">HR</text>
<text x="2005.75" y="1490.6" font-size="29.0">V</text>
<text x="2024.14" y="1497" font-size="19.0">R</text>
<text x="-0.91" y="19.5" font-size="31.5" font-weight="bold">a</text>
<text x="1037.12" y="24.6" font-size="31.5" font-weight="bold">b</text>
<text x="-0.93" y="675.4" font-size="31.5" font-weight="bold">c</text>
<text x="1036.51" y="675.8" font-size="31.5" font-weight="bold">d</text>
<text x="-1.23" y="1332.5" font-size="31.5" font-weight="bold">e</text>
<text x="1036.66" y="1332.9" font-size="31.5" font-weight="bold">f</text>
</svg>
</body></html>
